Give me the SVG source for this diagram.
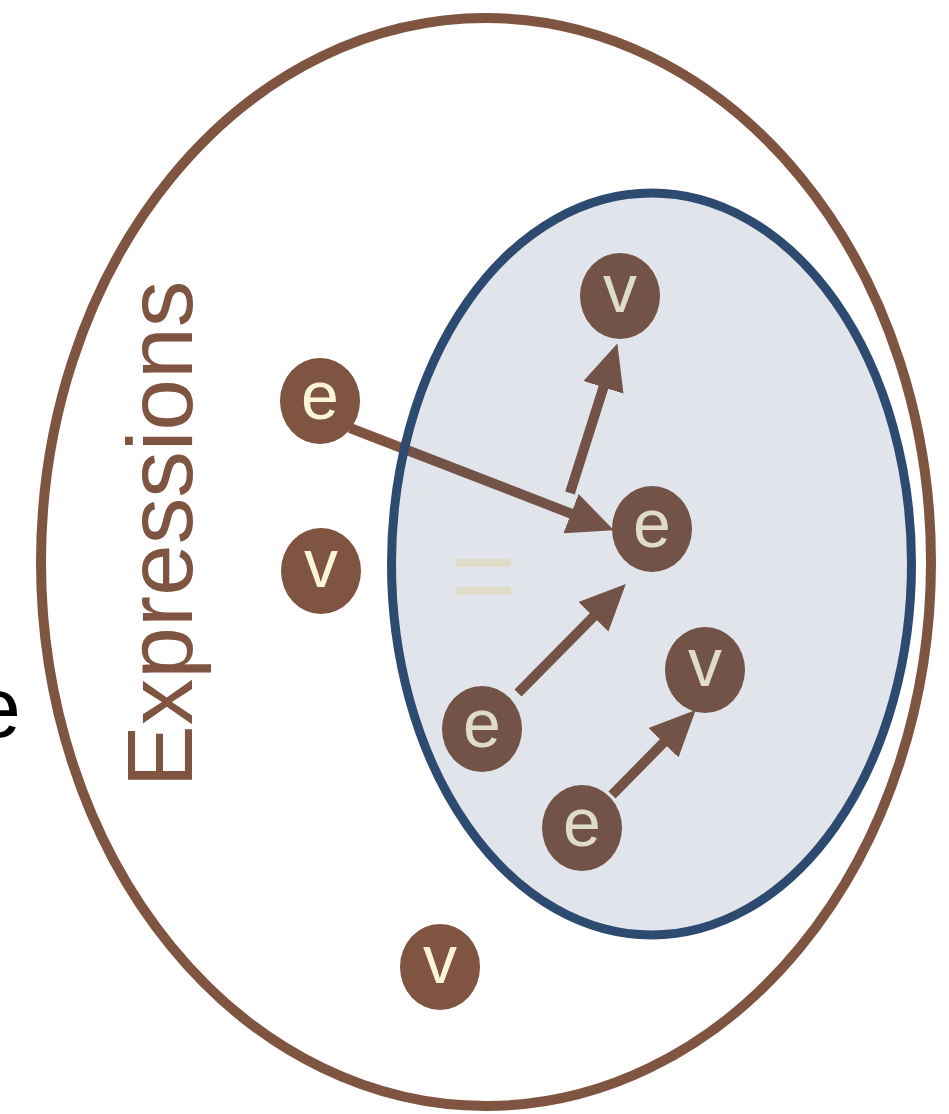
<svg xmlns="http://www.w3.org/2000/svg" width="949" height="1114" viewBox="0 0 949 1114">
<defs>
<style>
.node{fill:#7f5541}
.lbl{font-family:"Liberation Sans",Arial,sans-serif;font-size:68px;fill:#fdf5d9;text-anchor:middle}
.edge{stroke:#7f5541;stroke-width:10;fill:none}
</style>
<marker id="ah" markerUnits="userSpaceOnUse" markerWidth="46" markerHeight="44" refX="15" refY="21" orient="auto" viewBox="0 0 46 42">
<path d="M0,0 L46,21 L0,42 z" fill="#7f5541"/>
</marker>
</defs>
<rect width="949" height="1114" fill="#ffffff"/>
<text x="-27" y="737" font-family="Liberation Sans, Arial, sans-serif" font-size="86" fill="#000000">e</text>
<ellipse id="expressions" cx="486" cy="562" rx="445" ry="544" fill="none" stroke="#7f5541" stroke-width="10"/>
<text transform="translate(192,534) rotate(-90)" text-anchor="middle" font-family="Liberation Sans, Arial, sans-serif" font-size="93" fill="#7f5541">Expressions</text>
<text x="483" y="614" text-anchor="middle" font-family="Liberation Sans, Arial, sans-serif" font-size="113" fill="#fdf5d9">=</text>
<g id="connectors">
<line class="edge" x1="350" y1="428" x2="585" y2="519" marker-end="url(#ah)"/>
<line class="edge" x1="570" y1="493" x2="608" y2="373" marker-end="url(#ah)"/>
<line class="edge" x1="518" y1="693" x2="604" y2="606" marker-end="url(#ah)"/>
<line class="edge" x1="612" y1="795" x2="674" y2="732" marker-end="url(#ah)"/>
</g>
<g id="n_e1"><ellipse class="node" cx="320" cy="401" rx="40" ry="43"/><text class="lbl" x="320" y="419">e</text></g>
<g id="n_v1"><ellipse class="node" cx="321" cy="571" rx="40" ry="43"/><text class="lbl" x="321" y="587">v</text></g>
<g id="n_v2"><ellipse class="node" cx="440" cy="967" rx="40" ry="43"/><text class="lbl" x="440" y="983">v</text></g>
<g id="n_v3"><ellipse class="node" cx="620" cy="296" rx="40" ry="43"/><text class="lbl" x="620" y="312">v</text></g>
<g id="n_e2"><ellipse class="node" cx="652" cy="529" rx="40" ry="43"/><text class="lbl" x="652" y="547">e</text></g>
<g id="n_e3"><ellipse class="node" cx="482" cy="729" rx="40" ry="43"/><text class="lbl" x="482" y="747">e</text></g>
<g id="n_v4"><ellipse class="node" cx="705" cy="670" rx="40" ry="43"/><text class="lbl" x="705" y="686">v</text></g>
<g id="n_e4"><ellipse class="node" cx="582" cy="828" rx="40" ry="43"/><text class="lbl" x="582" y="846">e</text></g>
<ellipse id="values" cx="651.5" cy="564" rx="260" ry="371" fill="#2d4a70" fill-opacity="0.14" stroke="#2d4a70" stroke-width="9"/>
</svg>
